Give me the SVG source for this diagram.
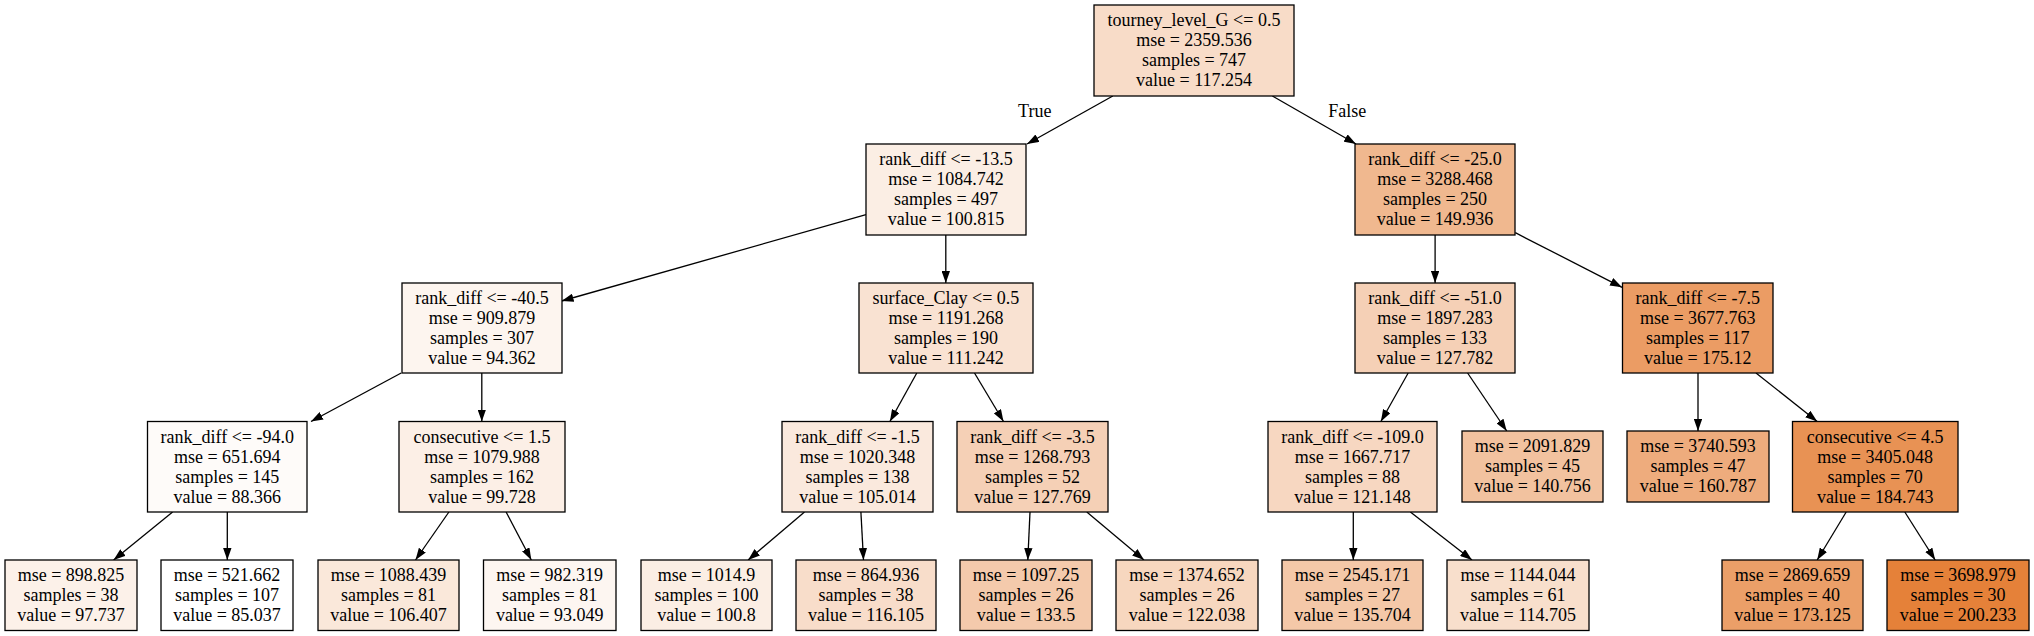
<svg xmlns="http://www.w3.org/2000/svg" width="2034" height="636" viewBox="0 0 2034 636">
<style>
rect{stroke:#000;stroke-width:1.3}
text{font-family:"Liberation Serif","Times New Roman",serif;font-size:18px;fill:#000;text-anchor:middle}
.e line{stroke:#000;stroke-width:1.3;marker-end:url(#ah)}
</style>
<defs>
<marker id="ah" markerUnits="userSpaceOnUse" viewBox="0 0 12 8.4" markerWidth="12" markerHeight="8.4" refX="12" refY="4.2" orient="auto">
<path d="M0,0 L12,4.2 L0,8.4 z" fill="#000"/>
</marker>
</defs>
<rect width="2034" height="636" fill="#fff" style="stroke:none"/>
<g id="edges" class="e">
<line x1="1112.8" y1="96" x2="1027" y2="144"/>
<line x1="1272.4" y1="96" x2="1356" y2="144"/>
<line x1="866" y1="214.7" x2="561.6" y2="301"/>
<line x1="945.8" y1="235" x2="945.8" y2="283"/>
<line x1="1435.1" y1="235" x2="1435.1" y2="283"/>
<line x1="1515.3" y1="232.7" x2="1622" y2="287.3"/>
<line x1="401.2" y1="373" x2="311" y2="421.5"/>
<line x1="481.8" y1="373" x2="481.8" y2="421.5"/>
<line x1="172.6" y1="512" x2="113.6" y2="560"/>
<line x1="227.3" y1="512" x2="227.3" y2="560"/>
<line x1="448.9" y1="512" x2="415.5" y2="560"/>
<line x1="506.1" y1="512" x2="531.3" y2="560"/>
<line x1="916.8" y1="373" x2="889.9" y2="421.5"/>
<line x1="974.5" y1="373" x2="1003.5" y2="421.5"/>
<line x1="804.5" y1="512" x2="748.1" y2="560"/>
<line x1="860.9" y1="512" x2="863.5" y2="560"/>
<line x1="1030" y1="512" x2="1027.8" y2="560"/>
<line x1="1086.8" y1="512" x2="1144" y2="560"/>
<line x1="1408.2" y1="373" x2="1380.9" y2="421.5"/>
<line x1="1467.6" y1="373" x2="1506.7" y2="431"/>
<line x1="1353.3" y1="512" x2="1353.3" y2="560"/>
<line x1="1410.4" y1="512" x2="1472" y2="560"/>
<line x1="1698" y1="373" x2="1698" y2="431"/>
<line x1="1756" y1="373" x2="1817.2" y2="421.5"/>
<line x1="1846.2" y1="512" x2="1817.2" y2="560"/>
<line x1="1904.8" y1="512" x2="1935.2" y2="560"/>
<text x="1034.8" y="116.5">True</text>
<text x="1347.3" y="116.5">False</text>
</g>
<g id="n0"><rect x="1094" y="5" width="200" height="91" fill="#f8dcc8"/>
<text x="1194" y="26">tourney_level_G &lt;= 0.5</text><text x="1194" y="46">mse = 2359.536</text><text x="1194" y="66">samples = 747</text><text x="1194" y="86">value = 117.254</text></g>
<g id="n1"><rect x="866" y="144" width="160" height="91" fill="#fbeee4"/>
<text x="946" y="165">rank_diff &lt;= -13.5</text><text x="946" y="185">mse = 1084.742</text><text x="946" y="205">samples = 497</text><text x="946" y="225">value = 100.815</text></g>
<g id="n3"><rect x="1355" y="144" width="160" height="91" fill="#f0b88f"/>
<text x="1435" y="165">rank_diff &lt;= -25.0</text><text x="1435" y="185">mse = 3288.468</text><text x="1435" y="205">samples = 250</text><text x="1435" y="225">value = 149.936</text></g>
<g id="n2"><rect x="402" y="283" width="160" height="90" fill="#fdf5ef"/>
<text x="482" y="304">rank_diff &lt;= -40.5</text><text x="482" y="324">mse = 909.879</text><text x="482" y="344">samples = 307</text><text x="482" y="364">value = 94.362</text></g>
<g id="n8"><rect x="859" y="283" width="174" height="90" fill="#f9e2d2"/>
<text x="946" y="304">surface_Clay &lt;= 0.5</text><text x="946" y="324">mse = 1191.268</text><text x="946" y="344">samples = 190</text><text x="946" y="364">value = 111.242</text></g>
<g id="n11"><rect x="1355" y="283" width="160" height="90" fill="#f5d0b6"/>
<text x="1435" y="304">rank_diff &lt;= -51.0</text><text x="1435" y="324">mse = 1897.283</text><text x="1435" y="344">samples = 133</text><text x="1435" y="364">value = 127.782</text></g>
<g id="n16"><rect x="1622.5" y="283" width="150.5" height="90" fill="#eb9c64"/>
<text x="1697.8" y="304">rank_diff &lt;= -7.5</text><text x="1697.8" y="324">mse = 3677.763</text><text x="1697.8" y="344">samples = 117</text><text x="1697.8" y="364">value = 175.12</text></g>
<g id="n4"><rect x="147.5" y="421.5" width="159.5" height="90.5" fill="#fefbf9"/>
<text x="227.3" y="442.5">rank_diff &lt;= -94.0</text><text x="227.3" y="462.5">mse = 651.694</text><text x="227.3" y="482.5">samples = 145</text><text x="227.3" y="502.5">value = 88.366</text></g>
<g id="n7"><rect x="399" y="421.5" width="166" height="90.5" fill="#fcefe6"/>
<text x="482" y="442.5">consecutive &lt;= 1.5</text><text x="482" y="462.5">mse = 1079.988</text><text x="482" y="482.5">samples = 162</text><text x="482" y="502.5">value = 99.728</text></g>
<g id="n9"><rect x="782" y="421.5" width="151" height="90.5" fill="#fae9dd"/>
<text x="857.5" y="442.5">rank_diff &lt;= -1.5</text><text x="857.5" y="462.5">mse = 1020.348</text><text x="857.5" y="482.5">samples = 138</text><text x="857.5" y="502.5">value = 105.014</text></g>
<g id="n12"><rect x="957" y="421.5" width="151" height="90.5" fill="#f5d0b6"/>
<text x="1032.5" y="442.5">rank_diff &lt;= -3.5</text><text x="1032.5" y="462.5">mse = 1268.793</text><text x="1032.5" y="482.5">samples = 52</text><text x="1032.5" y="502.5">value = 127.769</text></g>
<g id="n13"><rect x="1268" y="421.5" width="169" height="90.5" fill="#f7d7c1"/>
<text x="1352.5" y="442.5">rank_diff &lt;= -109.0</text><text x="1352.5" y="462.5">mse = 1667.717</text><text x="1352.5" y="482.5">samples = 88</text><text x="1352.5" y="502.5">value = 121.148</text></g>
<g id="n17"><rect x="1792.5" y="421.5" width="165.5" height="90.5" fill="#e89254"/>
<text x="1875.2" y="442.5">consecutive &lt;= 4.5</text><text x="1875.2" y="462.5">mse = 3405.048</text><text x="1875.2" y="482.5">samples = 70</text><text x="1875.2" y="502.5">value = 184.743</text></g>
<g id="l10"><rect x="1462" y="431" width="141" height="71" fill="#f2c29f"/>
<text x="1532.5" y="451.5">mse = 2091.829</text><text x="1532.5" y="471.5">samples = 45</text><text x="1532.5" y="491.5">value = 140.756</text></g>
<g id="l12"><rect x="1627" y="431" width="142" height="71" fill="#eeac7d"/>
<text x="1698" y="451.5">mse = 3740.593</text><text x="1698" y="471.5">samples = 47</text><text x="1698" y="491.5">value = 160.787</text></g>
<g id="l1"><rect x="5" y="560" width="132" height="70.5" fill="#fcf1e9"/>
<text x="71" y="580.5">mse = 898.825</text><text x="71" y="600.5">samples = 38</text><text x="71" y="620.5">value = 97.737</text></g>
<g id="l2"><rect x="161" y="560" width="132" height="70.5" fill="#ffffff"/>
<text x="227" y="580.5">mse = 521.662</text><text x="227" y="600.5">samples = 107</text><text x="227" y="620.5">value = 85.037</text></g>
<g id="l3"><rect x="318" y="560" width="141" height="70.5" fill="#fae8da"/>
<text x="388.5" y="580.5">mse = 1088.439</text><text x="388.5" y="600.5">samples = 81</text><text x="388.5" y="620.5">value = 106.407</text></g>
<g id="l4"><rect x="483.5" y="560" width="132.5" height="70.5" fill="#fdf6f1"/>
<text x="549.7" y="580.5">mse = 982.319</text><text x="549.7" y="600.5">samples = 81</text><text x="549.7" y="620.5">value = 93.049</text></g>
<g id="l5"><rect x="641" y="560" width="131" height="70.5" fill="#fbeee4"/>
<text x="706.5" y="580.5">mse = 1014.9</text><text x="706.5" y="600.5">samples = 100</text><text x="706.5" y="620.5">value = 100.8</text></g>
<g id="l6"><rect x="796" y="560" width="140" height="70.5" fill="#f8ddca"/>
<text x="866" y="580.5">mse = 864.936</text><text x="866" y="600.5">samples = 38</text><text x="866" y="620.5">value = 116.105</text></g>
<g id="l7"><rect x="960" y="560" width="132" height="70.5" fill="#f4caac"/>
<text x="1026" y="580.5">mse = 1097.25</text><text x="1026" y="600.5">samples = 26</text><text x="1026" y="620.5">value = 133.5</text></g>
<g id="l8"><rect x="1116" y="560" width="142" height="70.5" fill="#f7d7bf"/>
<text x="1187" y="580.5">mse = 1374.652</text><text x="1187" y="600.5">samples = 26</text><text x="1187" y="620.5">value = 122.038</text></g>
<g id="l9"><rect x="1282" y="560" width="141" height="70.5" fill="#f4c8a8"/>
<text x="1352.5" y="580.5">mse = 2545.171</text><text x="1352.5" y="600.5">samples = 27</text><text x="1352.5" y="620.5">value = 135.704</text></g>
<g id="l11"><rect x="1447" y="560" width="142" height="70.5" fill="#f8dfcc"/>
<text x="1518" y="580.5">mse = 1144.044</text><text x="1518" y="600.5">samples = 61</text><text x="1518" y="620.5">value = 114.705</text></g>
<g id="l13"><rect x="1722" y="560" width="141" height="70.5" fill="#eb9f68"/>
<text x="1792.5" y="580.5">mse = 2869.659</text><text x="1792.5" y="600.5">samples = 40</text><text x="1792.5" y="620.5">value = 173.125</text></g>
<g id="l14"><rect x="1887" y="560" width="142" height="70.5" fill="#e58139"/>
<text x="1958" y="580.5">mse = 3698.979</text><text x="1958" y="600.5">samples = 30</text><text x="1958" y="620.5">value = 200.233</text></g>
</svg>
